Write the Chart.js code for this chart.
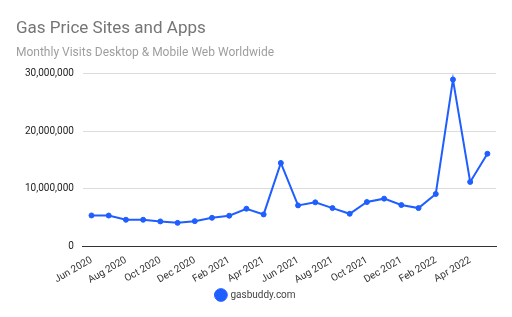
<!DOCTYPE html>
<html>
<head>
<meta charset="utf-8">
<script src="https://cdn.jsdelivr.net/npm/chart.js@4"></script>
<style>
	html, body { margin: 0; padding: 0; background: #fff; }
	#wrap { width: 512px; height: 317px; }
</style>
</head>
<body>
<div id="wrap"><canvas id="myChart"></canvas></div>
<script>
// 월별 라벨 (Jun 2020 ~ May 2022)
const months = [
	'Jun 2020', 'Jul 2020', 'Aug 2020', 'Sep 2020', 'Oct 2020', 'Nov 2020',
	'Dec 2020', 'Jan 2021', 'Feb 2021', 'Mar 2021', 'Apr 2021', 'May 2021',
	'Jun 2021', 'Jul 2021', 'Aug 2021', 'Sep 2021', 'Oct 2021', 'Nov 2021',
	'Dec 2021', 'Jan 2022', 'Feb 2022', 'Mar 2022', 'Apr 2022', 'May 2022'
];

// gasbuddy.com 월 방문수
const gasbuddy = [
	5370000, 5350000, 4620000, 4620000, 4330000, 4080000,
	4380000, 4960000, 5320000, 6540000, 5550000, 14500000,
	7120000, 7650000, 6650000, 5660000, 7700000, 8290000,
	7180000, 6650000, 9100000, 29000000, 11200000, 16100000
];

// y축 눈금
const yTicks = [0, 10000000, 20000000, 30000000];

const lineColor = '#1f5eff';
const ctx = document.getElementById('myChart');

new Chart(ctx, {
	type: 'line',
	data: {
		labels: months,
		datasets: [{
			label: 'gasbuddy.com',
			data: gasbuddy,
			borderColor: lineColor,
			backgroundColor: lineColor,
			pointBackgroundColor: lineColor,
			pointBorderColor: lineColor,
			borderWidth: 2,
			pointRadius: 2.5,
			pointBorderWidth: 1,
			tension: 0
		}]
	},
	options: {
		responsive: true,
		maintainAspectRatio: false,
		animation: false,
		layout: { padding: { left: 16, right: 16, top: 0, bottom: 7 } },
		plugins: {
			title: {
				display: true,
				text: 'Gas Price Sites and Apps',
				align: 'start',
				color: '#757575',
				font: { family: 'Roboto', size: 17, weight: 'normal' },
				padding: { top: 19, bottom: 6 }
			},
			subtitle: {
				display: true,
				text: 'Monthly Visits Desktop & Mobile Web Worldwide',
				align: 'start',
				color: '#9e9e9e',
				font: { family: 'Roboto', size: 12 },
				padding: { bottom: 14 }
			},
			legend: {
				position: 'bottom',
				labels: {
					usePointStyle: true,
					pointStyle: 'circle',
					boxWidth: 9,
					boxHeight: 9,
					color: '#444',
					font: { family: 'Roboto', size: 10 },
					padding: 3
				}
			}
		},
		scales: {
			x: {
				offset: true,
				grid: { display: false },
				border: { color: '#333' },
				// x축 높이 보정
				afterFit: function(scale) { scale.height += 1; },
				ticks: {
					autoSkip: false,
					minRotation: 30,
					maxRotation: 30,
					padding: 0,
					color: '#333',
					font: { family: 'Roboto', size: 10 },
					callback: function(v, i) {
						return i % 2 === 0 ? months[i] : '';
					}
				}
			},
			y: {
				min: 0,
				max: yTicks[yTicks.length - 1],
				afterBuildTicks: function(axis) {
					axis.ticks = yTicks.map(v => ({ value: v }));
				},
				grid: {
					color: function(c) { return c.tick.value === 0 ? '#333' : '#dcdcdc'; },
					lineWidth: 1,
					drawTicks: false
				},
				border: { display: false },
				ticks: {
					color: '#222',
					padding: 9,
					font: { family: 'Roboto', size: 10 },
					callback: function(v) { return v.toLocaleString('en-US'); }
				}
			}
		}
	}
});
</script>
</body>
</html>
